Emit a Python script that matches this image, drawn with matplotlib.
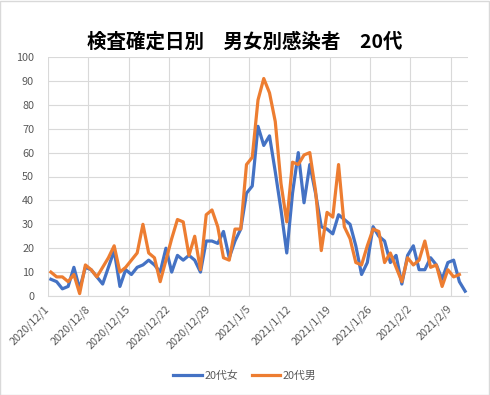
import matplotlib
matplotlib.use("Agg")
import matplotlib.pyplot as plt
import matplotlib.transforms as mtransforms
import numpy as np
import pandas as pd
from matplotlib.patches import Rectangle

plt.rcParams["font.family"] = ["Noto Sans CJK JP", "DejaVu Sans"]

# daily counts, 2020/12/1 .. 2021/2/11
start_date = "2020-12-01"
women_20s = [
    7, 6, 3, 4, 12, 3, 12, 11, 8, 5, 12, 19, 4, 11, 9, 12, 13, 15, 13, 10,
    20, 10, 17, 15, 17, 15, 10, 23, 23, 22, 27, 16, 23, 28, 43, 46, 71, 63, 67, 52,
    36, 18, 43, 60, 39, 55, 43, 29, 28, 26, 34, 32, 30, 21, 9, 14, 29, 25, 23, 14,
    17, 5, 17, 21, 11, 11, 16, 13, 7, 14, 15, 6, 2,
]
men_20s = [
    10, 8, 8, 6, 9, 1, 13, 11, 8, 12, 16, 21, 10, 12, 15, 18, 30, 18, 16, 6,
    15, 24, 32, 31, 17, 25, 11, 34, 36, 29, 16, 15, 28, 28, 55, 58, 82, 91, 85, 73,
    47, 31, 56, 55, 59, 60, 44, 19, 35, 33, 55, 29, 24, 14, 13, 21, 28, 27, 14, 18,
    12, 6, 16, 13, 15, 23, 12, 13, 4, 11, 8, 9, np.nan,
]
series_names = ["20代女", "20代男"]
series_colors = ["#4472C4", "#ED7D31"]
title = "検査確定日別　男女別感染者　20代"

dates = pd.date_range(start_date, periods=len(women_20s), freq="D")
x = np.arange(len(dates))
tick_idx = x[::7]
tick_labels = [f"{d.year}/{d.month}/{d.day}" for d in dates[::7]]

fig = plt.figure(figsize=(4.9, 3.95), dpi=100)
ax = fig.add_axes([48 / 490, 1 - 296 / 395, 420 / 490, 239 / 395])

for vals, name, col in zip([women_20s, men_20s], series_names, series_colors):
    ax.plot(x, vals, color=col, lw=2.3, label=name, solid_joinstyle="round")

ax.set_xlim(-0.5, len(dates) - 0.5)
ax.set_ylim(0, 100)
ax.set_yticks(np.arange(0, 101, 10))
ax.set_xticks(tick_idx - 0.5)
ax.set_xticklabels(tick_labels, rotation=45, ha="right", va="center",
                   rotation_mode="anchor")
# Excel puts the label end a little right of the tick
shift = mtransforms.ScaledTranslation(4 / 100, -1 / 100, fig.dpi_scale_trans)
for lbl in ax.get_xticklabels():
    lbl.set_transform(lbl.get_transform() + shift)

grid_c = "#d9d9d9"
ax.grid(True, color=grid_c, lw=0.8)
ax.set_axisbelow(True)
for side in ["top", "right", "left"]:
    ax.spines[side].set_visible(False)
ax.spines["bottom"].set_color(grid_c)
ax.tick_params(axis="both", length=0, labelsize=7.8, labelcolor="#595959")
ax.tick_params(axis="y", pad=10)
ax.tick_params(axis="x", pad=8)

fig.text(0.5, 1 - 42 / 395, title, ha="center", va="center",
         fontsize=14, fontweight="bold", color="black")

fig.legend(loc="center", bbox_to_anchor=(0.5, 1 - 376 / 395), ncol=2,
           frameon=False, fontsize=7.8, labelcolor="#595959",
           handlelength=2.6, columnspacing=1.2, handletextpad=0.3)

fig.patches.append(Rectangle((0.001, 0.001), 0.997, 0.997,
                             transform=fig.transFigure, fill=False,
                             edgecolor=grid_c, lw=1))

fig.savefig("out.png", dpi=100)
